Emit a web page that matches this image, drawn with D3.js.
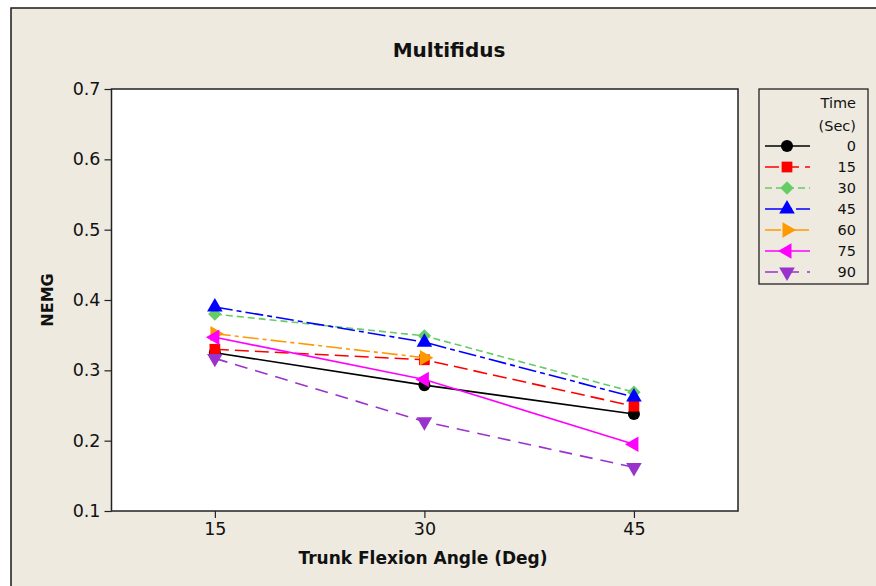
<!DOCTYPE html>
<html>
<head>
<meta charset="utf-8">
<script src="https://cdn.jsdelivr.net/npm/d3@7"></script>
<style>
  html, body { margin: 0; padding: 0; background: #ffffff; }
  svg { display: block; }
  text { font-family: "DejaVu Sans", Verdana, sans-serif; fill: #111; }
</style>
</head>
<body>
<svg id="chart" width="876" height="586"></svg>
<script>
// Trunk flexion angles (degrees) on the x axis
const angles = [15, 30, 45];
// Hold time of each series (seconds)
const times = ["0", "15", "30", "45", "60", "75", "90"];
// Normalised EMG of the multifidus, one array per hold time (null = no reading)
const nemg0  = [0.325, 0.279, 0.238];
const nemg15 = [0.330, 0.315, 0.249];
const nemg30 = [0.380, 0.349, 0.269];
const nemg45 = [0.390, 0.340, 0.262];
const nemg60 = [0.352, 0.318, null];
const nemg75 = [0.347, 0.287, 0.195];
const nemg90 = [0.317, 0.227, 0.162];
const yTicks = [0.1, 0.2, 0.3, 0.4, 0.5, 0.6, 0.7];
const xTicks = [15, 30, 45];

const seriesValues = [nemg0, nemg15, nemg30, nemg45, nemg60, nemg75, nemg90];

// Visual style per series
const styles = [
  { color: "#000000", dash: null,          symbol: d3.symbolCircle,   size: 115, rotate: 0 },
  { color: "#ff0000", dash: "14,6",        symbol: d3.symbolSquare,   size: 115, rotate: 0 },
  { color: "#66cc66", dash: "7,4",         symbol: d3.symbolSquare,   size: 90,  rotate: 45 },
  { color: "#0000ff", dash: "18,4,5,4",    symbol: d3.symbolTriangle, size: 105, rotate: 0 },
  { color: "#ff9900", dash: "16,4,4,4",    symbol: d3.symbolTriangle, size: 105, rotate: 90 },
  { color: "#ff00ff", dash: null,          symbol: d3.symbolTriangle, size: 105, rotate: -90 },
  { color: "#9933cc", dash: "13,8",        symbol: d3.symbolTriangle, size: 105, rotate: 180 }
];

const svg = d3.select("#chart");

// Frame background
svg.append("rect")
  .attr("x", 11).attr("y", 8)
  .attr("width", 900).attr("height", 600)
  .attr("fill", "#eeeae0")
  .attr("stroke", "#1a1a1a").attr("stroke-width", 1.5);

const plot = { left: 111.5, right: 738, top: 89, bottom: 511 };

const x = d3.scaleLinear().domain([7.6, 52.45]).range([plot.left, plot.right]);
const y = d3.scaleLinear().domain([0.1, 0.7]).range([plot.bottom, plot.top]);

// Plot area
svg.append("rect")
  .attr("x", plot.left).attr("y", plot.top)
  .attr("width", plot.right - plot.left).attr("height", plot.bottom - plot.top)
  .attr("fill", "#ffffff");

// Axes
const yAxis = svg.append("g")
  .attr("transform", `translate(${plot.left},0)`)
  .call(d3.axisLeft(y).tickValues(yTicks).tickFormat(d3.format(".1f")).tickSize(7).tickPadding(4));
const xAxis = svg.append("g")
  .attr("transform", `translate(0,${plot.bottom})`)
  .call(d3.axisBottom(x).tickValues(xTicks).tickSize(7).tickPadding(5));
[yAxis, xAxis].forEach(g => {
  g.select(".domain").remove();
  g.selectAll("line").attr("stroke", "#222").attr("stroke-width", 1.2);
  g.selectAll("text").attr("font-size", 17.5).attr("fill", "#111")
    .attr("font-family", "'DejaVu Sans', Verdana, sans-serif");
});

// Plot border
svg.append("rect")
  .attr("x", plot.left).attr("y", plot.top)
  .attr("width", plot.right - plot.left).attr("height", plot.bottom - plot.top)
  .attr("fill", "none").attr("stroke", "#222").attr("stroke-width", 1.5);

// Series lines and markers
const line = d3.line()
  .defined(d => d.v != null)
  .x(d => x(d.a)).y(d => y(d.v));

seriesValues.forEach((vals, i) => {
  const st = styles[i];
  const pts = angles.map((a, j) => ({ a, v: vals[j] }));
  svg.append("path")
    .datum(pts)
    .attr("d", line)
    .attr("fill", "none")
    .attr("stroke", st.color)
    .attr("stroke-width", 1.6)
    .attr("stroke-dasharray", st.dash);
  svg.append("g").selectAll("path")
    .data(pts.filter(d => d.v != null))
    .join("path")
    .attr("d", d3.symbol().type(st.symbol).size(st.size))
    .attr("transform", d => `translate(${x(d.a)},${y(d.v)}) rotate(${st.rotate})`)
    .attr("fill", st.color);
});

// Titles
svg.append("text")
  .attr("x", 449).attr("y", 57)
  .attr("text-anchor", "middle")
  .attr("font-size", 20).attr("font-weight", "bold")
  .text("Multifidus");
svg.append("text")
  .attr("x", 423).attr("y", 564)
  .attr("text-anchor", "middle")
  .attr("font-size", 17).attr("font-weight", "bold")
  .text("Trunk Flexion Angle (Deg)");
svg.append("text")
  .attr("transform", "translate(53,300) rotate(-90)")
  .attr("text-anchor", "middle")
  .attr("font-size", 16).attr("font-weight", "bold")
  .text("NEMG");

// Legend
const legend = svg.append("g");
legend.append("rect")
  .attr("x", 759).attr("y", 89).attr("width", 109).attr("height", 195)
  .attr("fill", "none").attr("stroke", "#222").attr("stroke-width", 1.3);
legend.append("text").attr("x", 856).attr("y", 108).attr("text-anchor", "end")
  .attr("font-size", 14.5).text("Time");
legend.append("text").attr("x", 856).attr("y", 131).attr("text-anchor", "end")
  .attr("font-size", 14.5).text("(Sec)");

const legendY = d3.scalePoint().domain(times).range([146, 272]);
times.forEach((t, i) => {
  const st = styles[i];
  const yy = legendY(t);
  legend.append("line")
    .attr("x1", 765).attr("x2", 810).attr("y1", yy).attr("y2", yy)
    .attr("stroke", st.color).attr("stroke-width", 1.6)
    .attr("stroke-dasharray", st.dash);
  legend.append("path")
    .attr("d", d3.symbol().type(st.symbol).size(st.size)())
    .attr("transform", `translate(787,${yy}) rotate(${st.rotate})`)
    .attr("fill", st.color);
  legend.append("text").attr("x", 856).attr("y", yy + 5).attr("text-anchor", "end")
    .attr("font-size", 14.5).text(t);
});
</script>
</body>
</html>
